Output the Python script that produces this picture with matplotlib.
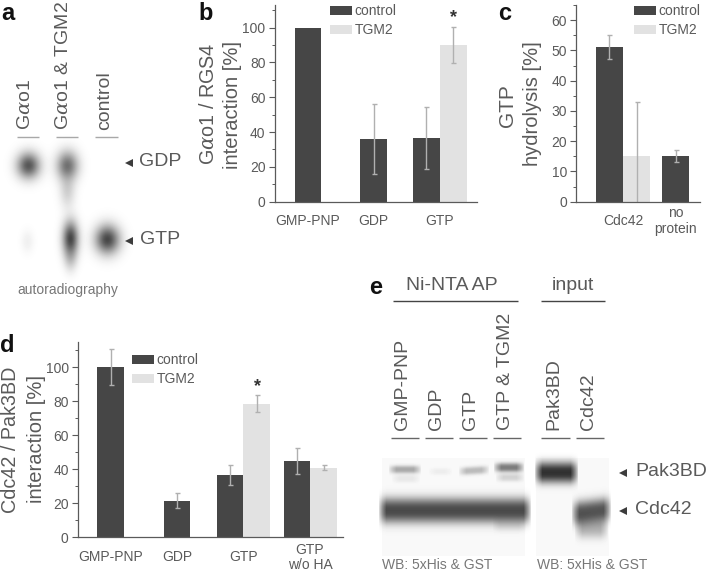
import numpy as np
import matplotlib
matplotlib.use('Agg')
import matplotlib.pyplot as plt

plt.rcParams['font.family'] = ['Liberation Sans', 'DejaVu Sans']
plt.rcParams['mathtext.fontset'] = 'dejavuserif'

W, H = 708, 571
TXT = '#5a5a5a'
DARK = '#464646'
LIGHT = '#e2e2e2'
ERR = '#b0b0b0'

# panel b
b_labels = ['GMP-PNP', 'GDP', 'GTP']
b_control = [100, 36, 36.5]
b_control_err = [np.nan, 20, 18]
b_tgm2 = [90]
b_tgm2_err = [10.5]

# panel c
c_labels = ['Cdc42', 'no\nprotein']
c_control = [51, 15]
c_control_err = [4, 2]
c_tgm2 = [15]
c_tgm2_err = [18]

# panel d
d_labels = ['GMP-PNP', 'GDP', 'GTP', 'GTP\nw/o HA']
d_control = [100, 21.5, 36.5, 45]
d_control_err = [10.5, 4.5, 6, 7.5]
d_tgm2 = [78.5, 41]
d_tgm2_err = [5, 1.5]

fig = plt.figure(figsize=(W / 100, H / 100), dpi=100)


def px_axes(left, top, right, bottom):
    return fig.add_axes([left / W, 1 - bottom / H, (right - left) / W, (bottom - top) / H])


# overlay in pixel coordinates, for the blots and free text
bg = px_axes(0, 0, W, H)
bg.axis('off')

yy, xx = np.mgrid[0:H, 0:W]
img = np.ones((H, W))


def blob(cx, cy, sx, sy, dark):
    global img
    img = img * (1 - dark * np.exp(-((xx - cx) / sx) ** 2 / 2 - ((yy - cy) / sy) ** 2 / 2))


def band(x0, x1, cy, sy, dark, slope=0.0):
    # flat topped smear, soft at the lane ends
    global img
    ramp = np.clip((xx - x0) / 8, 0, 1) * np.clip((x1 - xx) / 8, 0, 1)
    dy = yy - cy - slope * (xx - (x0 + x1) / 2)
    img = img * (1 - dark * ramp ** 0.7 * np.exp(-np.abs(dy / sy) ** 2.5 / 2))


# a: autoradiography
blob(28, 165, 8, 9, 0.66)
blob(67, 165, 7.5, 10, 0.55)
blob(67, 190, 5.5, 12, 0.18)
blob(27, 241, 4.5, 8, 0.06)
blob(70, 238, 5.5, 12, 0.72)
blob(70, 258, 4.5, 9, 0.18)
blob(107, 239, 8.5, 10, 0.72)

# e: western blot, light paper first
paper = np.zeros((H, W), dtype=bool)
paper[458:556, 382:525] = True
paper[458:556, 536:609] = True
img[paper] = 0.975

band(388, 421, 469, 3, 0.32)
band(391, 420, 478, 3, 0.07)
band(428, 452, 471, 2.5, 0.05)
band(458, 489, 470, 3, 0.25, -0.06)
band(493, 524, 467, 3.5, 0.5)
band(495, 524, 477, 3, 0.15)
band(378, 531, 510, 9.5, 0.7)
band(492, 526, 524, 5, 0.1)
band(534, 578, 472, 8, 0.8)
band(571, 611, 511, 9, 0.66, -0.12)
band(574, 608, 527, 8, 0.28)

bg.imshow(img, cmap='gray', vmin=0, vmax=1, extent=(0, W, H, 0), aspect='auto',
          interpolation='bilinear', zorder=0)
bg.set_xlim(0, W)
bg.set_ylim(H, 0)


def bar_panel(box, ymax, major, minor, px_unit, xc, vc, ec, xt, vt_, et, ticks, labels, pad):
    # xc, xt, ticks come in as figure pixels and go to bar units here
    left = box[0]
    to_u = lambda xs: [(x - left) / px_unit for x in xs]
    ax = px_axes(*box)
    ax.patch.set_alpha(0)
    ekw = dict(elinewidth=1, capsize=1.8, capthick=1)
    ax.bar(to_u(xc), vc, width=1, color=DARK, yerr=ec, ecolor=ERR, error_kw=ekw, label='control')
    ax.bar(to_u(xt), vt_, width=1, color=LIGHT, yerr=et, ecolor=ERR, error_kw=ekw, label='TGM2')
    ax.set_xlim(0, (box[2] - box[0]) / px_unit)
    ax.set_ylim(0, ymax)
    ax.set_yticks(np.arange(0, ymax + 1, major))
    ax.set_yticks(np.arange(0, ymax + 1, minor), minor=True)
    ax.set_xticks(to_u(ticks))
    ax.set_xticklabels(labels)
    ax.tick_params(axis='x', length=0, pad=pad, labelsize=10, labelcolor=TXT)
    for lab in ax.get_xticklabels():
        lab.set_va('center')
        lab.set_linespacing(1.15)
    ax.tick_params(axis='y', length=4.5, width=0.8, color=TXT, labelsize=10, labelcolor=TXT, pad=2)
    ax.tick_params(axis='y', which='minor', length=2.5, width=0.7, color=TXT)
    ax.spines['top'].set_visible(False)
    ax.spines['right'].set_visible(False)
    for side in ['left', 'bottom']:
        ax.spines[side].set_color(TXT)
        ax.spines[side].set_linewidth(0.9)
    return ax


def add_legend(ax, x, y):
    ax.legend(loc='upper left', bbox_to_anchor=(x / W, 1 - y / H), bbox_transform=fig.transFigure,
              frameon=False, fontsize=10, labelcolor=TXT, handlelength=1.6, handleheight=0.6,
              handletextpad=0.15, labelspacing=0.38, borderpad=0, borderaxespad=0)


# one bar is 26.7 px wide
u = 26.7
ax_b = bar_panel((274.5, 5, 477, 201.7), 113, 20, 10, u,
                 [308, 373.5, 426.3], b_control, b_control_err,
                 [453.3], b_tgm2, b_tgm2_err,
                 [308, 373.5, 440], b_labels, 14)
add_legend(ax_b, 330, 4)

ax_c = bar_panel((576, 5, 700, 201.7), 65, 10, 5, u,
                 [609.3, 675.8], c_control, c_control_err,
                 [636.5], c_tgm2, c_tgm2_err,
                 [623, 675.8], c_labels, 14)
add_legend(ax_c, 634, 4)

ax_d = bar_panel((77.7, 341.7, 343, 537.3), 115, 20, 10, u,
                 [110.5, 177, 230, 297], d_control, d_control_err,
                 [256.8, 323.5], d_tgm2, d_tgm2_err,
                 [110.5, 177, 243.5, 310], d_labels, 14.5)
add_legend(ax_d, 132, 353)


def t(x, y, s, size=14, color=TXT, ha='left', va='center', **kw):
    bg.text(x, y, s, fontsize=size, color=color, ha=ha, va=va, **kw)


def vt(x, y, s, size=14, va='bottom', color=TXT):
    bg.text(x, y, s, fontsize=size, color=color, rotation=90, ha='center', va=va)


def hline(x0, x1, y, color='#a8a8a8', lw=1):
    bg.plot([x0, x1], [y, y], color=color, lw=lw, solid_capstyle='butt')


def arrow(x, y):
    bg.plot([x], [y], marker='<', ms=5.5, color='#3c3c3c', mew=0)


# panel letters
for x, y, s in [(1, 14, 'a'), (198, 14, 'b'), (498, 14, 'c'), (0, 345, 'd'), (369, 288, 'e')]:
    t(x, y, s, size=17, color='#111111', fontweight='bold')

# a
alpha = r'G$\alpha$o1'
vt(26, 130, alpha)
vt(64, 130, alpha + ' & TGM2')
vt(105, 130, 'control')
hline(17, 39, 137)
hline(56, 78, 137)
hline(95, 118, 137)
t(139, 162, 'GDP')
t(140, 240, 'GTP')
arrow(129, 163)
arrow(129, 241)
t(17, 290, 'autoradiography', size=10, color='#777777')

# axis titles
vt(208, 104, alpha + ' / RGS4', size=14.2, va='center')
vt(233, 105, 'interaction [%]', size=14.5, va='center')
vt(508, 106, 'GTP', size=15, va='center')
vt(533, 104, 'hydrolysis [%]', size=14.5, va='center')
vt(11, 440, 'Cdc42 / Pak3BD', size=14.2, va='center')
vt(37, 439, 'interaction [%]', size=14.5, va='center')

# significance stars
t(453, 18, '*', size=13, color='#333333', ha='center', fontweight='bold')
t(257, 387, '*', size=13, color='#333333', ha='center', fontweight='bold')

# e
t(452, 286, 'Ni-NTA AP', size=14, ha='center')
t(573, 286, 'input', size=14, ha='center')
hline(393, 518, 301, color='#444444')
hline(541, 605, 301, color='#444444')
lanes = [(403, 'GMP-PNP'), (437, 'GDP'), (471, 'GTP'), (505, 'GTP & TGM2'), (554, 'Pak3BD'), (588, 'Cdc42')]
for x, s in lanes:
    vt(x, 430, s)
for x0, x1 in [(391, 419), (425, 453), (459, 487), (493, 521), (541, 570), (576, 604)]:
    hline(x0, x1, 438, color='#666666')
t(635, 472, 'Pak3BD')
t(635, 510, 'Cdc42')
arrow(623, 473)
arrow(623, 511)
t(382, 565, 'WB: 5xHis & GST', size=10, color='#777777')
t(537, 565, 'WB: 5xHis & GST', size=10, color='#777777')

fig.savefig('out.png', dpi=100)
plt.close()
